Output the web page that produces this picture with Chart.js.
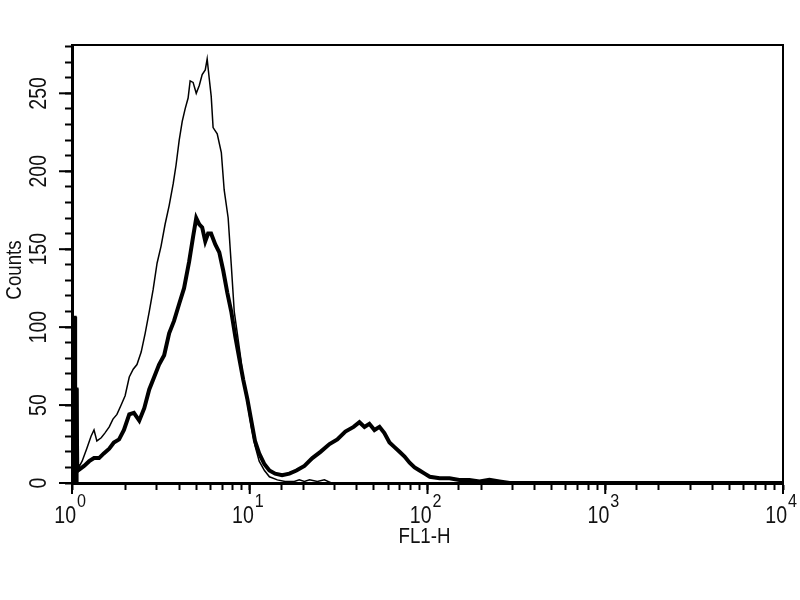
<!DOCTYPE html>
<html><head><meta charset="utf-8">
<script src="https://cdn.jsdelivr.net/npm/chart.js@4/dist/chart.umd.min.js"></script>
<style>html,body{margin:0;padding:0;background:#fff}#wrap{width:800px;height:600px}</style>
</head><body><div id="wrap"><canvas id="c" width="800" height="600"></canvas></div>
<script>
// FL1-H channel values and counts, thick (stained) histogram
const thickX = [1.00,1.035,1.036,1.06,1.07,1.08,1.17,1.25,1.33,1.42,1.51,1.62,1.72,1.84,1.96,2.10,2.23,2.39,2.55,2.72,2.90,3.09,3.30,3.52,3.75,4.01,4.27,4.56,4.80,5.00,5.20,5.40,5.62,5.83,6.06,6.40,6.74,7.10,7.48,7.87,8.29,8.73,9.20,9.69,10.2,10.7,11.3,12.1,12.9,13.9,15.2,16.7,18.3,20.3,22.5,25.0,28.1,31.1,34.5,38.4,41.4,44.2,47.1,50.3,53.7,57.2,61.1,65.2,69.6,74.3,79.3,84.6,90.3,96.4,103,117,133,151,172,196,223,254,290,10000];
const thickY = [106,106,60,60,12,8,11,14,16,16,19,22,26,28,34,44,45,40,48,60,68,76,82,96,104,115,125,142,158,170,166,164,155,160,160,153,148,136,122,110,94,80,66,54,40,27,19,12,8,6,5,6,8,11,16,20,25,28,33,36,39,36,38,34,36,32,26,23,20,17,13,10,8,6,4,3,3,2,2,1,2,1,0,0];
// first-channel spike of the stained histogram (filled)
const spikeX = [1.00,1.00,1.055,1.055,1.075,1.075];
const spikeY = [0,106,106,60,60,0];
// thin (control) histogram
const thinX = [1.00,1.04,1.08,1.14,1.21,1.28,1.33,1.38,1.46,1.53,1.62,1.70,1.79,1.89,1.99,2.10,2.21,2.32,2.45,2.58,2.72,2.86,3.01,3.17,3.34,3.52,3.71,3.85,4.01,4.17,4.33,4.50,4.62,4.80,5.00,5.20,5.40,5.62,5.76,5.91,6.07,6.22,6.56,6.92,7.18,7.56,7.87,8.18,8.51,8.85,9.19,9.68,10.2,10.7,11.3,12.1,12.9,14.3,15.8,17.8,19.0,20.3,21.7,24.0,26.3,28.8,10000];
const thinY = [30,12,9,14,22,30,34,27,29,32,36,41,44,50,56,68,73,76,84,96,110,124,141,152,166,178,192,204,220,232,240,247,258,257,250,255,262,265,272,260,248,228,224,212,188,170,140,110,96,82,66,52,36,24,14,8,4,2,1,1,2,1,2,1,2,0,0];
const xDecades = [1,10,100,1000,10000];
const xExponents = ['0','1','2','3','4'];
const yLabels = [0,50,100,150,200,250];
const xTitle = 'FL1-H';
const yTitle = 'Counts';

const FONT = '"Liberation Sans", Arial, sans-serif';

function squeezedText(ctx, txt, x, y, size, align, sx) {
  ctx.save();
  ctx.translate(x, y);
  ctx.scale(sx, 1);
  ctx.font = size + 'px ' + FONT;
  ctx.textAlign = align;
  ctx.fillText(txt, 0, 0);
  ctx.restore();
}

const textPlugin = {
  id: 'textPlugin',
  afterDraw(chart) {
    const {ctx, chartArea: a, scales: {x, y}} = chart;
    ctx.save();
    ctx.strokeStyle = '#000';
    ctx.lineWidth = 2;
    ctx.beginPath();
    ctx.moveTo(a.left, a.top); ctx.lineTo(a.right, a.top); ctx.lineTo(a.right, a.bottom);
    ctx.stroke();
    xDecades.forEach(v => {
      const px = x.getPixelForValue(v);
      ctx.beginPath(); ctx.moveTo(px, a.bottom); ctx.lineTo(px, a.bottom + 11); ctx.stroke();
    });
    yLabels.forEach(v => {
      const py = y.getPixelForValue(v);
      ctx.beginPath(); ctx.moveTo(a.left, py); ctx.lineTo(a.left - 13, py); ctx.stroke();
    });
    ctx.fillStyle = '#111';
    ctx.textBaseline = 'middle';
    yLabels.forEach(v => {
      ctx.save();
      ctx.translate(40, y.getPixelForValue(v));
      ctx.rotate(-Math.PI / 2);
      squeezedText(ctx, String(v), 0, 0, 23, 'center', 0.85);
      ctx.restore();
    });
    ctx.save();
    ctx.translate(15, 270);
    ctx.rotate(-Math.PI / 2);
    squeezedText(ctx, yTitle, 0, 0, 22, 'center', 0.85);
    ctx.restore();
    ctx.textBaseline = 'alphabetic';
    xDecades.forEach((v, i) => {
      const px = x.getPixelForValue(v);
      squeezedText(ctx, '10', px + 4, 523, 23, 'right', 0.85);
      squeezedText(ctx, xExponents[i], px + 5, 507, 19, 'left', 0.85);
    });
    ctx.textBaseline = 'middle';
    squeezedText(ctx, xTitle, (a.left + a.right) / 2 - 3, 537, 22, 'center', 0.85);
    ctx.restore();
  }
};

new Chart(document.getElementById('c'), {
  type: 'line',
  data: {
    datasets: [
      {label: 'control', data: thinX.map((v, i) => ({x: v, y: thinY[i]})), borderColor: '#000', borderWidth: 1.5, pointRadius: 0, tension: 0, fill: false},
      {label: 'stained', data: thickX.map((v, i) => ({x: v, y: thickY[i]})), borderColor: '#000', borderWidth: 4, pointRadius: 0, tension: 0, fill: false},
      {label: 'spike', data: spikeX.map((v, i) => ({x: v, y: spikeY[i]})), borderColor: '#000', backgroundColor: '#000', borderWidth: 2, pointRadius: 0, tension: 0, fill: 'origin'}
    ]
  },
  options: {
    responsive: false,
    animation: false,
    layout: {padding: {left: 65, right: 17, top: 45, bottom: 110}},
    plugins: {legend: {display: false}, tooltip: {enabled: false}},
    scales: {
      x: {
        type: 'logarithmic', min: 1, max: 10000,
        grid: {display: true, drawOnChartArea: false, drawTicks: true, tickLength: 7, tickWidth: 2, tickColor: '#000'},
        border: {display: true, width: 3, color: '#000'},
        ticks: {display: false}
      },
      y: {
        min: 0, max: 281,
        grid: {display: true, drawOnChartArea: false, drawTicks: true, tickLength: 7, tickWidth: 2, tickColor: '#000'},
        border: {display: true, width: 3, color: '#000'},
        ticks: {display: false, stepSize: 10, includeBounds: false}
      }
    }
  },
  plugins: [textPlugin]
});
</script>
</body></html>
